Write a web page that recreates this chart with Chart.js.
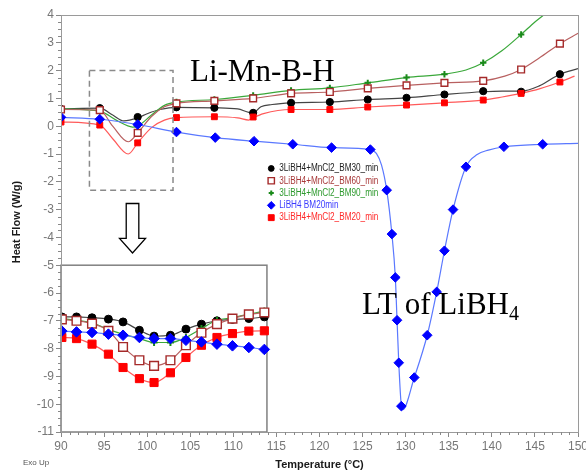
<!DOCTYPE html>
<html>
<head>
<meta charset="utf-8">
<script src="https://cdn.jsdelivr.net/npm/chart.js@4/dist/chart.umd.min.js"></script>
<style>
  html, body { margin: 0; padding: 0; background: #fff; }
  #wrap { width: 586px; height: 472px; }
</style>
</head>
<body>
<div id="wrap"><canvas id="chart" width="586" height="472"></canvas></div>
<script>
// main panel, marker positions (degC)
const markT = [90, 94.5, 98.9, 103.4, 107.8, 112.3, 116.7, 121.2, 125.6, 130.1, 134.5, 139.0, 143.4, 147.9];

const bm30MarkV = [0.62, 0.65, 0.33, 0.68, 0.66, 0.48, 0.84, 0.87, 0.96, 1.02, 1.14, 1.26, 1.24, 1.87];
const bm30CurveT = [90, 94.5, 96, 97.3, 98.9, 100, 101.5, 103.4, 107.8, 110.5, 111.8, 112.3, 113.2, 114.5, 116.7, 121.2, 125.6, 130.1, 134.5, 139.0, 141.2, 143.4, 145.5, 147.9, 150];
const bm30CurveV = [0.62, 0.65, 0.4, 0.19, 0.3, 0.45, 0.6, 0.68, 0.66, 0.62, 0.5, 0.48, 0.7, 0.78, 0.84, 0.87, 0.96, 1.02, 1.14, 1.24, 1.26, 1.26, 1.45, 1.87, 2.07];

const bm60MarkV = [0.6, 0.58, -0.24, 0.82, 0.91, 1.0, 1.18, 1.23, 1.36, 1.47, 1.56, 1.63, 2.04, 2.97];
const bm60CurveT = [90, 94.5, 96, 97.8, 98.9, 100.5, 102, 103.4, 107.8, 112.3, 116.7, 121.2, 125.6, 130.1, 134.5, 139.0, 141.5, 143.4, 145.5, 147.9, 150];
const bm60CurveV = [0.6, 0.58, 0.0, -0.56, -0.24, 0.35, 0.7, 0.82, 0.91, 1.0, 1.18, 1.23, 1.36, 1.47, 1.56, 1.63, 1.8, 2.04, 2.45, 2.97, 3.34];

const bm90MarkV = [0.62, 0.54, 0.0, 0.87, 0.96, 1.11, 1.29, 1.38, 1.56, 1.75, 1.87, 2.28, 3.3];
const bm90CurveT = [90, 94.5, 96.5, 98.3, 98.9, 100.5, 102, 103.4, 107.8, 112.3, 116.7, 121.2, 125.6, 130.1, 134.5, 137, 139.0, 141.2, 143.4, 145, 146.2, 148];
const bm90CurveV = [0.62, 0.54, 0.2, -0.03, 0.0, 0.4, 0.75, 0.87, 0.96, 1.11, 1.29, 1.38, 1.56, 1.75, 1.87, 2.02, 2.28, 2.72, 3.3, 3.75, 4.05, 4.6];

const bm20MarkV = [0.15, 0.04, -0.6, 0.31, 0.34, 0.33, 0.6, 0.6, 0.69, 0.76, 0.84, 0.94, 1.18, 1.59];
const bm20CurveT = [90, 94.5, 96, 97.8, 98.9, 100.5, 102, 103.4, 107.8, 110.5, 111.8, 112.3, 113.5, 116.7, 121.2, 125.6, 130.1, 134.5, 139.0, 141.2, 143.4, 145.6, 147.9, 149.6];
const bm20CurveV = [0.15, 0.04, -0.45, -1.0, -0.6, -0.05, 0.22, 0.31, 0.34, 0.3, 0.22, 0.3, 0.45, 0.6, 0.6, 0.69, 0.76, 0.84, 0.94, 1.05, 1.18, 1.35, 1.59, 1.8];

const libh4MarkT = [90, 94.5, 98.9, 103.4, 107.9, 112.4, 116.9, 121.4, 125.9, 127.8, 128.4, 128.8, 129.0, 129.2, 129.5, 131.0, 132.5, 133.6, 134.5, 135.5, 137.0, 141.4, 145.9];
const libh4MarkV = [0.32, 0.25, 0.06, -0.21, -0.41, -0.54, -0.65, -0.77, -0.84, -2.3, -3.88, -5.44, -6.98, -8.51, -10.07, -9.04, -7.52, -5.96, -4.48, -3.0, -1.46, -0.74, -0.65];
const libh4CurveT = [90, 94.5, 98.9, 103.4, 107.9, 112.4, 116.9, 121.4, 125.9, 126.6, 127.2, 127.8, 128.4, 128.8, 129.0, 129.2, 129.5, 129.65, 131.0, 132.5, 133.6, 134.5, 135.5, 137.0, 138.3, 139.6, 141.4, 145.9, 150];
const libh4CurveV = [0.32, 0.25, 0.06, -0.21, -0.41, -0.54, -0.65, -0.77, -0.84, -0.98, -1.4, -2.3, -3.88, -5.44, -6.98, -8.51, -10.07, -10.2, -9.04, -7.52, -5.96, -4.48, -3.0, -1.46, -1.02, -0.86, -0.74, -0.65, -0.62];

// inset (zoom of the 95-103 degC region), drawn on the same axes
const insetT = [90.1, 91.8, 93.6, 95.5, 97.2, 99.1, 100.8, 102.7, 104.5, 106.3, 108.1, 109.9, 111.8, 113.6];
const insetBm30 = [-6.86, -6.86, -6.89, -6.94, -7.04, -7.34, -7.55, -7.52, -7.3, -7.12, -7.0, -6.95, -6.92, -6.86];
const insetBm60 = [-6.95, -7.0, -7.1, -7.36, -7.94, -8.42, -8.62, -8.42, -7.88, -7.43, -7.12, -6.92, -6.77, -6.7];
const insetBm90 = [-6.92, -6.98, -7.07, -7.31, -7.48, -7.64, -7.78, -7.78, -7.6, -7.28, -6.98, -6.89, -6.76, -6.65];
const insetLibh4 = [-7.37, -7.4, -7.42, -7.48, -7.52, -7.6, -7.64, -7.64, -7.7, -7.76, -7.84, -7.9, -7.96, -8.03];
const insetBm20 = [-7.6, -7.64, -7.84, -8.2, -8.68, -9.08, -9.22, -8.87, -8.32, -7.88, -7.6, -7.46, -7.37, -7.36];

const insetBox = [90, 113.9, -5, -11];
const zoomBox = [93.3, 103.0, 2.0, -2.3];

const legendLabels = ['3LiBH4+MnCl2_BM30_min', '3LiBH4+MnCl2_BM60_min', '3LiBH4+MnCl2_BM90_min', 'LiBH4 BM20min', '3LiBH4+MnCl2_BM20_min'];

const pts = (xs, ys) => ys.map((v, i) => ({ x: xs[i], y: v }));

const styles = {
  bm30: { line: '#444444', mark: '#000000', text: '#222222', pointStyle: 'circle', r: 3.6, fill: '#000000', bw: 1 },
  bm60: { line: '#b86060', mark: '#a52a2a', text: '#a83a3a', pointStyle: 'rect', r: 5.6, fill: '#ffffff', bw: 1.4 },
  bm90: { line: '#3aa83a', mark: '#1a8a1a', text: '#2e9a2e', pointStyle: 'cross', r: 3.2, fill: '#1a8a1a', bw: 2 },
  libh4: { line: '#5a78ff', mark: '#0000ff', text: '#3a3aff', pointStyle: 'rectRot', r: 4.8, fill: '#0000ff', bw: 1 },
  bm20: { line: '#ff5a5a', mark: '#ff0000', text: '#ff2a2a', pointStyle: 'rect', r: 5.2, fill: '#ff0000', bw: 1 },
};

const curve = (data, s) => ({
  data, showLine: true, borderColor: s.line, borderWidth: 1.2, pointRadius: 0,
  cubicInterpolationMode: 'monotone', order: 2,
});
const marks = (data, s, scale) => ({
  data, showLine: false, pointStyle: s.pointStyle, pointRadius: s.r * (scale || 1),
  pointBackgroundColor: s.fill, pointBorderColor: s.mark, pointBorderWidth: s.bw, order: 1,
});
const insetLine = (data, s) => ({
  data, showLine: true, borderColor: s.line, borderWidth: 1.2,
  cubicInterpolationMode: 'monotone', pointStyle: s.pointStyle, pointRadius: s.r * 1.1,
  pointBackgroundColor: s.fill, pointBorderColor: s.mark, pointBorderWidth: s.bw, order: 1,
});

const decor = {
  id: 'decor',
  beforeDatasetsDraw(chart) {
    const { ctx, scales: { x, y } } = chart;
    const l = x.getPixelForValue(insetBox[0]);
    const r = x.getPixelForValue(insetBox[1]);
    const t = y.getPixelForValue(insetBox[2]);
    const b = y.getPixelForValue(insetBox[3]);
    ctx.save();
    ctx.fillStyle = '#fff';
    ctx.fillRect(l, t, r - l, b - t);
    ctx.strokeStyle = '#808080';
    ctx.lineWidth = 1.5;
    ctx.strokeRect(l, t, r - l, b - t);
    ctx.restore();
  },
  afterDatasetsDraw(chart) {
    const { ctx, chartArea: a, scales: { x, y } } = chart;
    ctx.save();
    // frame
    ctx.strokeStyle = '#9a9a9a';
    ctx.lineWidth = 1;
    ctx.strokeRect(a.left + 0.5, a.top + 0.5, a.right - a.left, a.bottom - a.top);
    // minor ticks
    ctx.strokeStyle = '#888';
    ctx.beginPath();
    for (let t = 91; t < 150; t++) {
      if (t % 5 === 0) continue;
      const px = Math.round(x.getPixelForValue(t)) + 0.5;
      ctx.moveTo(px, a.bottom);
      ctx.lineTo(px, a.bottom + 3);
    }
    for (let v = -11; v < 4; v += 0.25) {
      if (Number.isInteger(v)) continue;
      const py = Math.round(y.getPixelForValue(v)) + 0.5;
      ctx.moveTo(a.left - 3, py);
      ctx.lineTo(a.left, py);
    }
    ctx.stroke();
    // dashed zoom box
    ctx.setLineDash([6, 4]);
    ctx.strokeStyle = '#8a8a8a';
    ctx.lineWidth = 1.5;
    const zl = x.getPixelForValue(zoomBox[0]);
    const zr = x.getPixelForValue(zoomBox[1]);
    const zt = y.getPixelForValue(zoomBox[2]);
    const zb = y.getPixelForValue(zoomBox[3]);
    ctx.strokeRect(zl, zt, zr - zl, zb - zt);
    ctx.setLineDash([]);
    // hollow down arrow
    const cx = x.getPixelForValue(98.3);
    const top = y.getPixelForValue(-2.78);
    const tip = y.getPixelForValue(-4.56);
    const headTop = tip - 14.5;
    ctx.strokeStyle = '#000';
    ctx.lineWidth = 1.3;
    ctx.beginPath();
    ctx.moveTo(cx - 6.3, top);
    ctx.lineTo(cx + 6.3, top);
    ctx.lineTo(cx + 6.3, headTop);
    ctx.lineTo(cx + 13, headTop);
    ctx.lineTo(cx, tip);
    ctx.lineTo(cx - 13, headTop);
    ctx.lineTo(cx - 6.3, headTop);
    ctx.closePath();
    ctx.stroke();
    ctx.restore();
  },
  afterDraw(chart) {
    const { ctx, chartArea: a, scales: { x, y } } = chart;
    ctx.save();
    // legend
    const keys = ['bm30', 'bm60', 'bm90', 'libh4', 'bm20'];
    const lx = x.getPixelForValue(114.4);
    const ly0 = y.getPixelForValue(-1.52);
    keys.forEach((k, i) => {
      const s = styles[k];
      const py = ly0 + i * 12.3;
      ctx.fillStyle = s.fill;
      ctx.strokeStyle = s.mark;
      ctx.lineWidth = s.bw;
      Chart.helpers.drawPoint(ctx, { pointStyle: s.pointStyle, radius: s.r * 0.8, rotation: 0, borderWidth: s.bw }, lx, py);
      ctx.save();
      ctx.translate(lx + 8, py);
      ctx.scale(0.82, 1);
      ctx.font = '10px "Liberation Sans", Arial, sans-serif';
      ctx.fillStyle = s.text;
      ctx.textBaseline = 'middle';
      ctx.fillText(legendLabels[i], 0, 0);
      ctx.restore();
    });
    // annotations
    ctx.fillStyle = '#000';
    ctx.textBaseline = 'alphabetic';
    ctx.font = '31px "Liberation Serif", "Times New Roman", serif';
    ctx.fillText('Li-Mn-B-H', 190, 81);
    ctx.fillText('LT of LiBH', 362, 314);
    const w = ctx.measureText('LT of LiBH').width;
    ctx.font = '20px "Liberation Serif", "Times New Roman", serif';
    ctx.fillText('4', 362 + w, 320);
    // axis titles
    ctx.fillStyle = '#1a1a1a';
    ctx.font = 'bold 11px "Liberation Sans", Arial, sans-serif';
    ctx.textAlign = 'center';
    ctx.textBaseline = 'middle';
    ctx.fillText('Temperature (°C)', (a.left + a.right) / 2, 465);
    ctx.save();
    ctx.translate(17, 222);
    ctx.rotate(-Math.PI / 2);
    ctx.fillText('Heat Flow (W/g)', 0, 0);
    ctx.restore();
    ctx.font = '8px "Liberation Sans", Arial, sans-serif';
    ctx.fillStyle = '#555';
    ctx.textAlign = 'left';
    ctx.fillText('Exo Up', 23, 463);
    ctx.restore();
  },
};

const tickFont = { family: '"Liberation Sans Narrow", "Liberation Sans", Arial, sans-serif', size: 12 };

new Chart(document.getElementById('chart'), {
  type: 'scatter',
  data: {
    datasets: [
      curve(pts(libh4CurveT, libh4CurveV), styles.libh4),
      curve(pts(bm20CurveT, bm20CurveV), styles.bm20),
      curve(pts(bm60CurveT, bm60CurveV), styles.bm60),
      curve(pts(bm90CurveT, bm90CurveV), styles.bm90),
      curve(pts(bm30CurveT, bm30CurveV), styles.bm30),
      marks(pts(libh4MarkT, libh4MarkV), styles.libh4),
      marks(pts(markT, bm20MarkV), styles.bm20, 0.8),
      marks(pts(markT, bm60MarkV), styles.bm60, 0.85),
      marks(pts(markT, bm90MarkV), styles.bm90),
      marks(pts(markT, bm30MarkV), styles.bm30),
      insetLine(pts(insetT, insetLibh4), styles.libh4),
      insetLine(pts(insetT, insetBm20), styles.bm20),
      insetLine(pts(insetT, insetBm60), styles.bm60),
      insetLine(pts(insetT, insetBm90), styles.bm90),
      insetLine(pts(insetT, insetBm30), styles.bm30),
    ],
  },
  options: {
    responsive: false,
    animation: false,
    devicePixelRatio: 1,
    layout: { padding: { top: 15, right: 8, left: 0, bottom: 0 } },
    plugins: { legend: { display: false }, tooltip: { enabled: false } },
    scales: {
      x: {
        type: 'linear',
        min: 90,
        max: 150,
        ticks: { stepSize: 5, color: '#777', font: tickFont, padding: 2, maxRotation: 0 },
        grid: { drawOnChartArea: false, tickLength: 5, color: '#888' },
        border: { color: '#888' },
        afterFit(scale) {
          scale.height = 40;
          scale.paddingLeft = 0;
          scale.paddingRight = 0;
        },
      },
      y: {
        min: -11,
        max: 4,
        ticks: { stepSize: 1, color: '#777', font: tickFont, padding: 2 },
        grid: { drawOnChartArea: false, tickLength: 5, color: '#888' },
        border: { color: '#888' },
        afterFit(scale) {
          scale.width = 61;
        },
      },
    },
  },
  plugins: [decor],
});
</script>
</body>
</html>
